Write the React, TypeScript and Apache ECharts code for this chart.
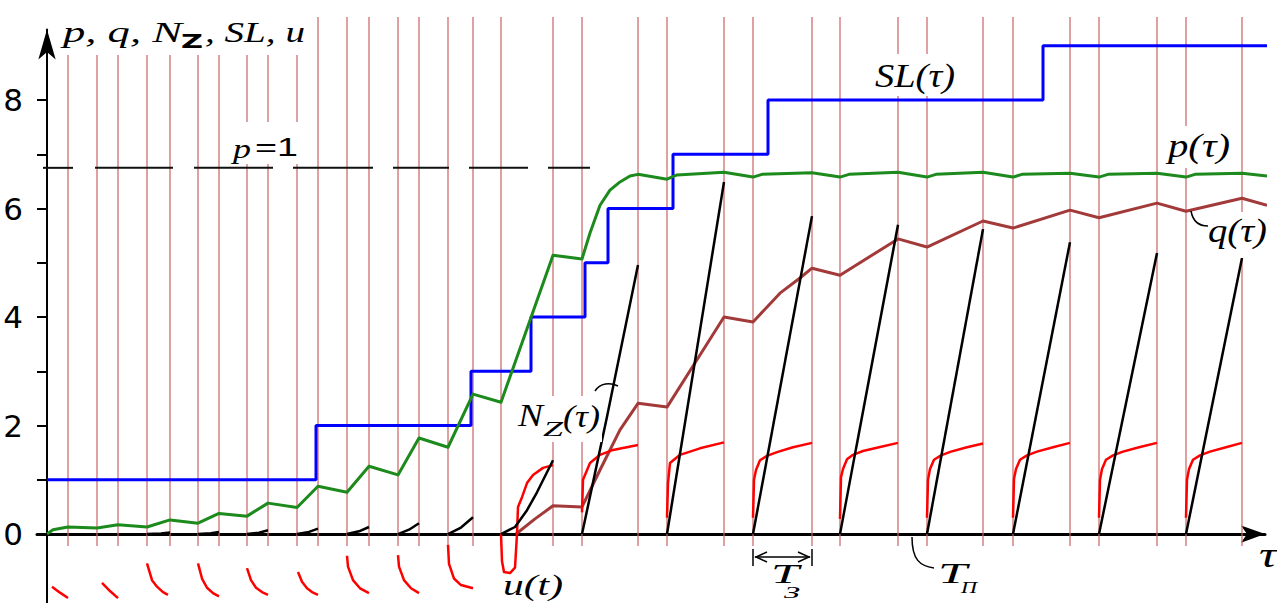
import React, { useEffect, useRef } from 'react';
import * as echarts from 'echarts';

// time axis τ (arbitrary units)
const workStarts = [0, 5.0, 10.0, 15.1, 20.0, 25.0, 30.0, 35.1, 40.1, 45.4, 53.5, 62.0, 70.6, 79.3, 88.0, 96.6, 105.2, 113.9];
const workEnds = [2.1, 7.1, 12.3, 17.2, 22.1, 27.1, 32.2, 37.2, 42.6, 50.6, 59.1, 67.7, 76.5, 85.1, 93.6, 102.3, 111.0, 119.5];
const gridLineSpan = [-0.22, 9.53];

// SL(τ) step levels
const slTimes = [0, 26.9, 42.4, 48.4, 53.8, 56.1, 62.6, 72.1, 99.6, 122.3];
const slValues = [1, 2, 3, 4, 5, 6, 7, 8, 9, 9];

// p(τ)
const pPoints: number[][] = [
  [0, 0], [0.6, 0.08], [2.1, 0.13], [5.0, 0.11], [7.1, 0.17], [10.0, 0.13], [12.3, 0.26], [15.1, 0.2],
  [17.2, 0.38], [20.0, 0.33], [22.1, 0.57], [25.0, 0.49], [27.1, 0.88], [30.0, 0.77], [32.2, 1.25],
  [35.1, 1.09], [37.2, 1.77], [40.1, 1.6], [42.6, 2.58], [45.4, 2.43], [50.6, 5.14], [53.5, 5.07],
  [54.3, 5.55], [55.3, 6.06], [56.3, 6.34], [57.3, 6.49], [58.3, 6.6], [59.1, 6.63], [62.0, 6.54],
  [63.0, 6.62], [67.7, 6.67], [70.6, 6.58], [71.5, 6.63], [76.5, 6.66], [79.3, 6.58], [80.2, 6.63],
  [85.1, 6.67], [88.0, 6.58], [88.9, 6.63], [93.6, 6.67], [96.6, 6.58], [97.5, 6.63], [102.3, 6.65],
  [105.2, 6.58], [106.1, 6.63], [111.0, 6.65], [113.9, 6.58], [114.8, 6.63], [119.5, 6.65], [122.0, 6.6],
];

// q(τ)
const qPoints: number[][] = [
  [46.9, 0], [48.8, 0.28], [50.6, 0.52], [53.5, 0.5], [55.3, 1.18], [57.3, 1.92], [59.1, 2.41],
  [62.0, 2.34], [65.3, 3.3], [67.7, 4.0], [70.6, 3.91], [73.3, 4.44], [75.3, 4.72], [76.5, 4.9],
  [79.3, 4.77], [85.1, 5.44], [88.0, 5.29], [93.6, 5.77], [96.6, 5.64], [102.3, 5.97], [105.2, 5.83],
  [111.0, 6.1], [113.9, 5.95], [119.5, 6.19], [122.0, 6.06],
];

// N_Z(τ) pieces
const nzSegments: number[][][] = [
  [[10.0, 0], [11.4, 0.01], [12.3, 0.03]],
  [[15.1, 0], [16.4, 0.015], [17.2, 0.04]],
  [[20.0, 0], [21.2, 0.025], [22.1, 0.07]],
  [[25.0, 0], [26.2, 0.04], [27.1, 0.1]],
  [[30.0, 0], [31.2, 0.05], [32.2, 0.13]],
  [[35.1, 0], [36.2, 0.08], [37.2, 0.2]],
  [[40.1, 0], [41.4, 0.12], [42.6, 0.31]],
  [[45.4, 0], [46.8, 0.13], [48.0, 0.44], [49.0, 0.77], [50.6, 1.36]],
  [[53.5, 0], [56.0, 2.16], [59.1, 4.96]],
  [[62.0, 0], [67.7, 6.49]],
  [[70.6, 0], [76.5, 5.86]],
  [[79.3, 0], [85.1, 5.7]],
  [[88.0, 0], [93.6, 5.62]],
  [[96.6, 0], [102.3, 5.38]],
  [[105.2, 0], [111.0, 5.18]],
  [[113.9, 0], [119.5, 5.09]],
];

// u(t) pieces
const uSegments: number[][][] = [
  [[0.5, -0.97], [1.3, -1.08], [2.1, -1.18]],
  [[5.5, -0.9], [6.3, -1.05], [7.1, -1.18]],
  [[10.0, -0.54], [10.5, -0.85], [11.0, -0.97], [11.6, -1.07], [12.1, -1.12]],
  [[15.1, -0.54], [15.5, -0.82], [16.0, -0.99], [16.6, -1.09], [17.2, -1.15]],
  [[20.0, -0.63], [20.4, -0.85], [20.9, -0.99], [21.5, -1.07], [22.1, -1.12]],
  [[25.1, -0.7], [25.5, -0.88], [26.0, -1.0], [26.5, -1.07], [27.1, -1.12]],
  [[30.0, -0.4], [30.1, -0.6], [30.6, -0.85], [31.3, -1.0], [32.2, -1.09]],
  [[35.1, -0.39], [35.2, -0.6], [35.7, -0.85], [36.4, -1.0], [37.2, -1.09]],
  [[40.1, -0.2], [40.2, -0.55], [40.7, -0.82], [41.4, -0.94], [42.6, -1.0]],
  [[45.4, 0], [45.5, -0.5], [45.7, -0.7], [46.3, -0.72], [46.8, -0.62], [47.0, 0], [47.1, 0.5], [47.5, 0.68], [48.0, 0.94], [48.6, 1.09], [49.6, 1.22], [50.6, 1.27]],
  [[53.5, 0.4], [53.6, 1.0], [54.3, 1.31], [55.3, 1.46], [56.6, 1.55], [59.1, 1.64]],
  [[62.0, 0.3], [62.1, 0.94], [62.3, 1.31], [63.3, 1.46], [65.3, 1.58], [67.7, 1.69]],
  [[70.6, 0.3], [70.7, 1.0], [70.9, 1.18], [71.3, 1.36], [72.0, 1.44], [73.0, 1.51], [74.6, 1.6], [76.5, 1.68]],
  [[79.3, 0.28], [79.4, 1.05], [79.6, 1.2], [80.0, 1.38], [80.6, 1.46], [81.6, 1.53], [83.2, 1.6], [85.1, 1.68]],
  [[88.0, 0.3], [88.1, 1.0], [88.3, 1.2], [88.7, 1.37], [89.4, 1.45], [90.4, 1.52], [92.0, 1.6], [93.6, 1.67]],
  [[96.6, 0.3], [96.7, 1.02], [96.9, 1.2], [97.3, 1.37], [98.0, 1.45], [99.0, 1.52], [100.6, 1.6], [102.3, 1.68]],
  [[105.2, 0.3], [105.3, 1.0], [105.5, 1.2], [105.9, 1.37], [106.6, 1.45], [107.6, 1.52], [109.2, 1.6], [111.0, 1.68]],
  [[113.9, 0.3], [114.0, 1.0], [114.2, 1.2], [114.6, 1.37], [115.3, 1.45], [116.3, 1.52], [117.9, 1.6], [119.5, 1.68]],
];

// "p = 1" dashed level
const pOneLevel = 6.75;
const pOneDashes = [[-0.4, 2.6], [4.8, 12.6], [14.7, 22.6], [24.6, 32.6], [34.6, 40.2], [42.2, 48.1], [50.1, 54.3]];

// y axis ticks / labels
const yTickValues = [0, 1, 2, 3, 4, 5, 6, 7, 8];
const yLabelValues = [0, 2, 4, 6, 8];

const SERIF = 'Liberation Serif';
const SANS = 'Liberation Sans';

export default function App() {
  const ref = useRef<HTMLDivElement>(null);

  useEffect(() => {
    if (!ref.current) return;
    const chart = echarts.init(ref.current, undefined, { renderer: 'svg' });
    const ctx = document.createElement('canvas').getContext('2d') as CanvasRenderingContext2D;

    const fitText = (text: string, size: number, family: string, style: string, weight: string,
      left: number, right: number, cy: number) => {
      ctx.font = `${style} ${weight} ${size}px "${family}"`;
      const w = ctx.measureText(text).width || 1;
      return {
        type: 'text', x: left, y: cy, scaleX: (right - left) / w, scaleY: 1, z: 101, silent: true,
        style: {
          text, fontSize: size, fontFamily: family, fontStyle: style, fontWeight: weight, fill: '#000',
          textAlign: 'left', textVerticalAlign: 'middle', align: 'left', verticalAlign: 'middle',
        },
      };
    };
    const box = (x: number, y: number, w: number, h: number) => ({
      type: 'rect', z: 100, silent: true, shape: { x, y, width: w, height: h }, style: { fill: '#fff' },
    });

    const base = { type: 'line', symbol: 'none', silent: true, clip: false, animation: false };
    const series: any[] = [];
    [...workStarts.slice(1), ...workEnds].sort((a, b) => a - b).forEach((t) => {
      series.push({ ...base, z: 1, data: [[t, gridLineSpan[0]], [t, gridLineSpan[1]]], lineStyle: { color: '#c96262', width: 1.2 } });
    });
    pOneDashes.forEach(([a, b]) => {
      series.push({ ...base, z: 2, data: [[a, pOneLevel], [b, pOneLevel]], lineStyle: { color: '#111', width: 2 } });
    });
    series.push({ ...base, z: 3, step: 'end', data: slTimes.map((t, i) => [t, slValues[i]]), lineStyle: { color: '#0000ff', width: 3 } });
    series.push({ ...base, z: 4, data: pPoints, lineStyle: { color: '#1c8a1c', width: 3, join: 'round' } });
    series.push({ ...base, z: 4, data: qPoints, lineStyle: { color: '#a33a3a', width: 3, join: 'round' } });
    uSegments.forEach((seg) => {
      series.push({ ...base, z: 5, data: seg, lineStyle: { color: '#ff0000', width: 2.5, join: 'round' } });
    });
    nzSegments.forEach((seg) => {
      series.push({ ...base, z: 6, data: seg, lineStyle: { color: '#000', width: 2.5, join: 'round' } });
    });

    const graphic: any[] = [
      box(58, 12, 254, 43),
      fitText('p, q, N', 30, SERIF, 'italic', 'normal', 63, 182, 32),
      fitText('Z', 19, 'DejaVu Sans', 'normal', 'bold', 181, 203, 42),
      fitText(', SL, u', 30, SERIF, 'italic', 'normal', 205, 305, 32),
      box(228, 122, 76, 42),
      fitText('p', 27, SERIF, 'italic', 'normal', 233, 251, 149),
      fitText('=1', 26, SANS, 'normal', 'normal', 255, 298, 147),
      box(866, 54, 96, 42),
      fitText('SL(τ)', 33, SERIF, 'italic', 'normal', 875, 955, 76),
      box(1162, 126, 76, 42),
      fitText('p(τ)', 33, SERIF, 'italic', 'normal', 1168, 1230, 146),
      box(1201, 212, 72, 46),
      fitText('q(τ)', 33, SERIF, 'italic', 'normal', 1208, 1267, 231),
      box(512, 396, 90, 46),
      fitText('N', 31, SERIF, 'italic', 'normal', 518, 543, 415),
      fitText('Z', 21, SERIF, 'italic', 'normal', 543, 563, 429),
      fitText('(τ)', 31, SERIF, 'italic', 'normal', 563, 600, 416),
      fitText('u(t)', 30, SERIF, 'italic', 'normal', 503, 563, 585),
      fitText('T', 27, SERIF, 'italic', 'normal', 771, 799, 574),
      fitText('З', 17, SERIF, 'italic', 'normal', 784, 800, 592),
      fitText('T', 29, SERIF, 'italic', 'normal', 938, 967, 573),
      fitText('П', 17, SERIF, 'italic', 'normal', 961, 977, 587),
      fitText('τ', 36, SERIF, 'italic', 'normal', 1259, 1277, 555),
      // leaders
      { type: 'bezierCurve', z: 102, silent: true, shape: { x1: 595, y1: 391, x2: 618, y2: 386, cpx1: 600, cpy1: 383, cpx2: 610, cpy2: 382 }, style: { stroke: '#000', lineWidth: 1.5, fill: 'none' } },
      { type: 'bezierCurve', z: 102, silent: true, shape: { x1: 1191, y1: 211, x2: 1208, y2: 226, cpx1: 1193, cpy1: 222, cpx2: 1200, cpy2: 226 }, style: { stroke: '#000', lineWidth: 1.5, fill: 'none' } },
      { type: 'bezierCurve', z: 102, silent: true, shape: { x1: 912, y1: 537, x2: 934, y2: 568, cpx1: 912, cpy1: 560, cpx2: 920, cpy2: 566 }, style: { stroke: '#000', lineWidth: 1.5, fill: 'none' } },
      // T_З span arrow
      { type: 'line', z: 102, silent: true, shape: { x1: 753, y1: 549, x2: 753, y2: 566 }, style: { stroke: '#000', lineWidth: 1.5 } },
      { type: 'line', z: 102, silent: true, shape: { x1: 812, y1: 549, x2: 812, y2: 566 }, style: { stroke: '#000', lineWidth: 1.5 } },
      { type: 'line', z: 102, silent: true, shape: { x1: 755, y1: 557, x2: 810, y2: 557 }, style: { stroke: '#000', lineWidth: 1.5 } },
      { type: 'polyline', z: 102, silent: true, shape: { points: [[767, 552], [756, 557], [767, 562]] }, style: { stroke: '#000', lineWidth: 1.5, fill: 'none' } },
      { type: 'polyline', z: 102, silent: true, shape: { points: [[798, 552], [809, 557], [798, 562]] }, style: { stroke: '#000', lineWidth: 1.5, fill: 'none' } },
    ];

    chart.setOption({
      animation: false,
      backgroundColor: '#fff',
      grid: { left: 37, right: 12, top: 29.5, bottom: 0, containLabel: false, outerBoundsMode: 'none' },
      xAxis: {
        type: 'value', min: -1, max: 121.8,
        axisLine: { show: true, onZero: true, symbol: ['none', 'arrow'], symbolSize: [13, 24], lineStyle: { color: '#000', width: 3 } },
        axisTick: { show: false }, axisLabel: { show: false }, splitLine: { show: false },
      },
      yAxis: {
        type: 'value', min: -1.271, max: 9.3,
        axisLine: { show: true, onZero: true, symbol: ['none', 'arrow'], symbolSize: [13, 30], lineStyle: { color: '#000', width: 2 } },
        axisTick: { show: true, length: 10, customValues: yTickValues, lineStyle: { color: '#000', width: 2 } },
        axisLabel: { show: true, customValues: yLabelValues, fontFamily: 'DejaVu Sans', fontSize: 31, color: '#000', margin: 14 },
        splitLine: { show: false },
      },
      series,
      graphic,
    });
    return () => chart.dispose();
  }, []);

  return <div ref={ref} style={{ position: 'fixed', left: 0, top: 0, width: 1277, height: 603, background: '#fff' }} />;
}
